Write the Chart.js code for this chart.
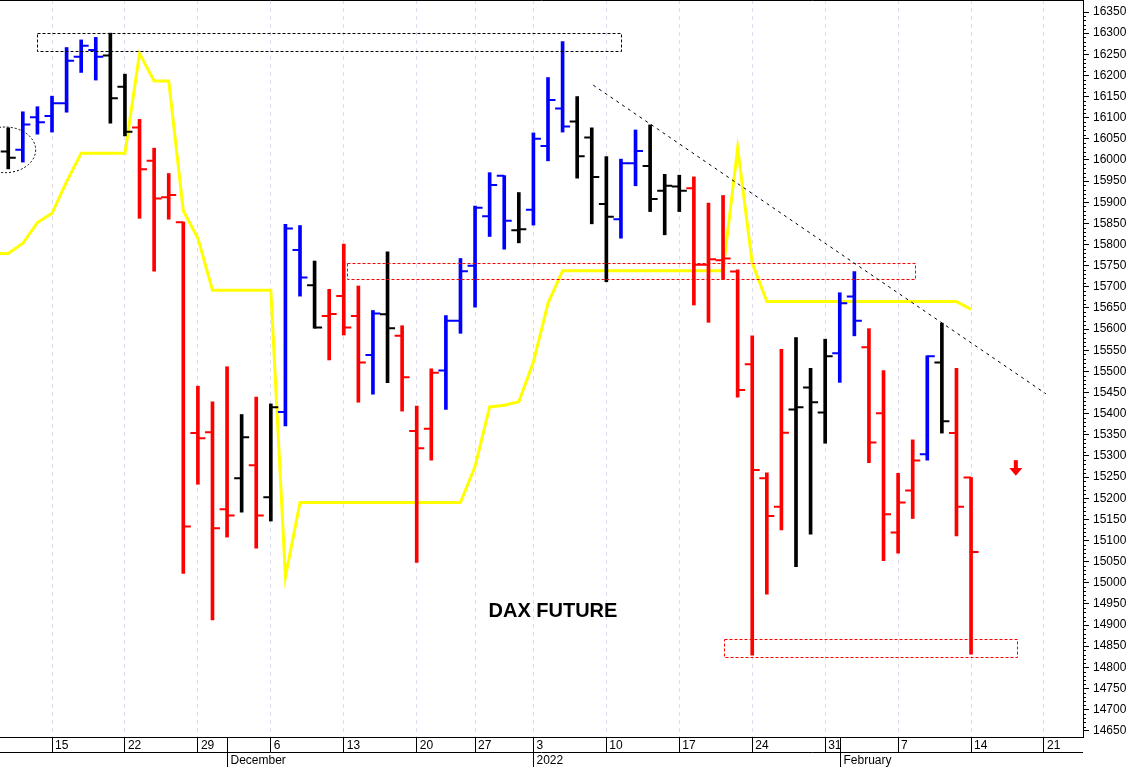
<!DOCTYPE html>
<html>
<head>
<meta charset="utf-8">
<title>DAX Future</title>
<script src="https://cdn.jsdelivr.net/npm/chart.js@4.4.1/dist/chart.umd.min.js"></script>
<style>
  html, body { margin: 0; padding: 0; background: #fff; }
  #chart { display: block; }
</style>
</head>
<body>
<canvas id="chart" width="1131" height="767"></canvas>
<script>
// trading days on the axis (Eurex closed 24 and 31 Dec), one row per week
const days = [
  '2021-11-09', '2021-11-10', '2021-11-11', '2021-11-12',
  '2021-11-15', '2021-11-16', '2021-11-17', '2021-11-18', '2021-11-19',
  '2021-11-22', '2021-11-23', '2021-11-24', '2021-11-25', '2021-11-26',
  '2021-11-29', '2021-11-30', '2021-12-01', '2021-12-02', '2021-12-03',
  '2021-12-06', '2021-12-07', '2021-12-08', '2021-12-09', '2021-12-10',
  '2021-12-13', '2021-12-14', '2021-12-15', '2021-12-16', '2021-12-17',
  '2021-12-20', '2021-12-21', '2021-12-22', '2021-12-23',
  '2021-12-27', '2021-12-28', '2021-12-29', '2021-12-30',
  '2022-01-03', '2022-01-04', '2022-01-05', '2022-01-06', '2022-01-07',
  '2022-01-10', '2022-01-11', '2022-01-12', '2022-01-13', '2022-01-14',
  '2022-01-17', '2022-01-18', '2022-01-19', '2022-01-20', '2022-01-21',
  '2022-01-24', '2022-01-25', '2022-01-26', '2022-01-27', '2022-01-28',
  '2022-01-31', '2022-02-01', '2022-02-02', '2022-02-03', '2022-02-04',
  '2022-02-07', '2022-02-08', '2022-02-09', '2022-02-10', '2022-02-11',
  '2022-02-14', '2022-02-15', '2022-02-16', '2022-02-17', '2022-02-18',
  '2022-02-21', '2022-02-22', '2022-02-23', '2022-02-24', '2022-02-25'
];

const opens = [
  null, 16020, 16024, 16101,
  16104, 16134, 16244, 16260, 16247,
  16173, 16077, 15998, 15912, 15853,
  15354, 15356, 15174, 15247, 15278,
  15202, 15404, 15787, 15704, 15631,
  15678, 15631, 15539, 15635, 15584,
  15359, 15364, 15502, 15620,
  15750, 15867, 15963, 15834,
  15882, 16033, 16122, 16091, 16053,
  15896, 15860, 15992, 15986, 15927,
  15937, 15933, 15752, 15763, 15736,
  15517, 15247, 15180, 15410, 15462,
  15403, 15543, 15677, 15557, 15401,
  15119, 15218, 15304, 15521, 15354,
  15249, null, null, null, null,
  null, null, null, null, null
];
const highs = [
  null, 16076, 16114, 16126,
  16151, 16266, 16284, 16290, 16300,
  16203, 16096, 16028, 15968, 15853,
  15465, 15428, 15511, 15398, 15439,
  15423, 15848, 15845, 15761, 15694,
  15801, 15702, 15644, 15783, 15608,
  15418, 15506, 15632, 15767,
  15891, 15970, 15963, 15923,
  16064, 16195, 16280, 16150, 16076,
  16008, 16002, 16071, 16083, 15966,
  15964, 15960, 15898, 15916, 15740,
  15584, 15260, 15552, 15580, 15507,
  15576, 15686, 15736, 15601, 15502,
  15259, 15338, 15537, 15614, 15507,
  15249, null, null, null, null,
  null, null, null, null, null
];
const lows = [
  null, 15979, 15995, 16061,
  16066, 16113, 16207, 16189, 16087,
  16057, 15862, 15737, 15860, 15022,
  15233, 14912, 15108, 15167, 15082,
  15146, 15371, 15678, 15602, 15527,
  15586, 15427, 15446, 15473, 15406,
  15048, 15290, 15410, 15590,
  15652, 15819, 15789, 15804,
  15846, 15998, 16066, 15957, 15849,
  15712, 15815, 15939, 15878, 15823,
  15878, 15657, 15616, 15718, 15439,
  14829, 14973, 15125, 15038, 15115,
  15330, 15474, 15584, 15284, 15052,
  15070, 15152, 15290, 15354, 15111,
  14831, null, null, null, null,
  null, null, null, null, null
];
const closes = [
  null, 16005, 16084, 16089,
  16134, 16235, 16270, 16244, 16146,
  16067, 15978, 15909, 15917, 15133,
  15342, 15129, 15159, 15344, 15159,
  15415, 15838, 15722, 15604, 15636,
  15604, 15521, 15637, 15602, 15486,
  15318, 15497, 15620, 15737,
  15887, 15941, 15856, 15836,
  16050, 16142, 16079, 16009, 15960,
  15866, 15992, 16021, 15908, 15939,
  15927, 15752, 15765, 15767, 15456,
  15267, 15158, 15355, 15415, 15427,
  15536, 15661, 15620, 15332, 15162,
  15190, 15289, 15536, 15382, 15180,
  15073, null, null, null, null,
  null, null, null, null, null
];
// bar colouring state
const trend = [
  null, 'flat', 'up', 'up',
  'up', 'up', 'up', 'up', 'flat',
  'flat', 'down', 'down', 'down', 'down',
  'down', 'down', 'down', 'flat', 'down',
  'flat', 'up', 'up', 'flat', 'down',
  'down', 'down', 'up', 'flat', 'down',
  'down', 'down', 'up', 'up',
  'up', 'up', 'up', 'flat',
  'up', 'up', 'up', 'flat', 'flat',
  'flat', 'up', 'up', 'flat', 'flat',
  'flat', 'down', 'down', 'down', 'down',
  'down', 'down', 'down', 'flat', 'flat',
  'flat', 'up', 'up', 'down', 'down',
  'down', 'down', 'up', 'flat', 'down',
  'down', null, null, null, null,
  null, null, null, null, null
];
// yellow stop line
const stopLine = [
  15779, 15779, 15803, 15852,
  15874, 15949, 16016, 16016, 16016,
  16016, 16252, 16187, 16187, 15880,
  15815, 15692, 15692, 15692, 15692,
  15692, 15014, 15190, 15190, 15190,
  15190, 15190, 15190, 15190, 15190,
  15190, 15190, 15190, 15190,
  15275, 15416, 15420, 15428,
  15522, 15661, 15738, 15738, 15738,
  15738, 15738, 15738, 15738, 15738,
  15738, 15738, 15738, 15738, 16028,
  15756, 15665, 15665, 15665, 15665,
  15665, 15665, 15665, 15665, 15665,
  15665, 15665, 15665, 15665, 15665,
  15647, null, null, null, null,
  null, null, null, null, null
];

const weekStarts = ['2021-11-15', '2021-11-22', '2021-11-29', '2021-12-06', '2021-12-13', '2021-12-20',
  '2021-12-27', '2022-01-03', '2022-01-10', '2022-01-17', '2022-01-24', '2022-01-31',
  '2022-02-07', '2022-02-14', '2022-02-21'];
const weekLabels = ['15', '22', '29', '6', '13', '20', '27', '3', '10', '17', '24', '31', '7', '14', '21'];
const monthStarts = ['2021-12-01', '2022-01-03', '2022-02-01'];
const monthLabels = ['December', '2022', 'February'];
const yTicks = [14650, 14700, 14750, 14800, 14850, 14900, 14950, 15000, 15050, 15100, 15150, 15200,
  15250, 15300, 15350, 15400, 15450, 15500, 15550, 15600, 15650, 15700, 15750, 15800, 15850,
  15900, 15950, 16000, 16050, 16100, 16150, 16200, 16250, 16300, 16350];

const colorOf = { up: '#0000ff', down: '#ff0000', flat: '#000000' };
const FONT = '"Liberation Sans", Arial, sans-serif';
Chart.defaults.font.family = FONT;
Chart.defaults.font.size = 12;
Chart.defaults.color = '#000';

const barIdx = days.map((d, i) => i).filter(i => highs[i] != null);
const tickIdx = weekStarts.map(d => days.indexOf(d));

// hand drawn study marks, in trading-day / price units
const studyBoxes = [
  { x0: 2.95, x1: 43.0, y0: 16258, y1: 16300, color: '#000' },
  { x0: 24.24, x1: 63.15, y0: 15718, y1: 15756, color: '#ff0000' },
  { x0: 50.08, x1: 70.12, y0: 14824, y1: 14866, color: '#ff0000' }
];
const trendLine = { x0: 41.1, y0: 16177, x1: 72.13, y1: 15447 };
const circle = { x: 0.78, y: 16024, rx: 2.1, ry: 54 };
const arrow = { x: 70.07, top: 15290, tip: 15253 };
const title = { x: 38.34, y: 14933, text: 'DAX FUTURE' };

const studyMarks = {
  id: 'studyMarks',
  afterDatasetsDraw(chart) {
    const { ctx, scales: { x, y } } = chart;
    ctx.save();
    ctx.lineWidth = 1;
    ctx.setLineDash([3, 2]);
    studyBoxes.forEach(b => {
      const l = Math.round(x.getPixelForValue(b.x0)) + 0.5;
      const r = Math.round(x.getPixelForValue(b.x1)) + 0.5;
      const t = Math.round(y.getPixelForValue(b.y1)) + 0.5;
      const bt = Math.round(y.getPixelForValue(b.y0)) + 0.5;
      ctx.strokeStyle = b.color;
      ctx.strokeRect(l, t, r - l, bt - t);
    });
    ctx.strokeStyle = '#000';
    ctx.setLineDash([3, 4]);
    ctx.beginPath();
    ctx.moveTo(x.getPixelForValue(trendLine.x0), y.getPixelForValue(trendLine.y0));
    ctx.lineTo(x.getPixelForValue(trendLine.x1), y.getPixelForValue(trendLine.y1));
    ctx.stroke();

    ctx.setLineDash([2, 2]);
    const cx = x.getPixelForValue(circle.x), cy = y.getPixelForValue(circle.y);
    ctx.beginPath();
    ctx.ellipse(cx, cy, x.getPixelForValue(circle.x + circle.rx) - cx,
      y.getPixelForValue(circle.y - circle.ry) - cy, 0, 0, Math.PI * 2);
    ctx.stroke();
    ctx.setLineDash([]);

    // red arrow
    const ax = x.getPixelForValue(arrow.x);
    const at = y.getPixelForValue(arrow.top), ap = y.getPixelForValue(arrow.tip);
    const am = at + (ap - at) * 0.5;
    ctx.fillStyle = '#ff0000';
    ctx.fillRect(ax - 2, at, 4, am - at + 1);
    ctx.beginPath();
    ctx.moveTo(ax - 6.5, am);
    ctx.lineTo(ax + 6.5, am);
    ctx.lineTo(ax, ap);
    ctx.closePath();
    ctx.fill();

    ctx.fillStyle = '#000';
    ctx.font = 'bold 20px ' + FONT;
    ctx.textAlign = 'center';
    ctx.textBaseline = 'middle';
    ctx.fillText(title.text, x.getPixelForValue(title.x), y.getPixelForValue(title.y));
    ctx.restore();
  }
};

// open tick left, close tick right
const ohlcTicks = {
  id: 'ohlcTicks',
  afterDatasetsDraw(chart) {
    const { ctx, scales: { x, y } } = chart;
    ctx.save();
    ctx.lineWidth = 2;
    barIdx.forEach(i => {
      const px = x.getPixelForValue(i);
      const yo = y.getPixelForValue(opens[i]);
      const yc = y.getPixelForValue(closes[i]);
      ctx.strokeStyle = colorOf[trend[i]];
      ctx.beginPath();
      ctx.moveTo(px - 7.5, yo);
      ctx.lineTo(px, yo);
      ctx.moveTo(px, yc);
      ctx.lineTo(px + 7.5, yc);
      ctx.stroke();
    });
    ctx.restore();
  }
};

// frame, month row and minor price ticks
const axisExtras = {
  id: 'axisExtras',
  afterDraw(chart) {
    const { ctx, chartArea: a, scales: { x, y } } = chart;
    const line = (x1, y1, x2, y2) => { ctx.beginPath(); ctx.moveTo(x1, y1); ctx.lineTo(x2, y2); ctx.stroke(); };
    ctx.save();
    ctx.strokeStyle = '#000';
    ctx.lineWidth = 1;
    line(0, 0.5, a.right, 0.5);
    line(0, a.bottom + 15.5, a.right, a.bottom + 15.5);
    ctx.fillStyle = '#000';
    ctx.font = '12px ' + FONT;
    ctx.textBaseline = 'middle';
    ctx.textAlign = 'left';
    monthStarts.forEach((d, k) => {
      const px = Math.round(x.getPixelForValue(days.indexOf(d))) + 0.5;
      line(px, a.bottom, px, chart.height);
      ctx.fillText(monthLabels[k], px + 3, a.bottom + 24);
    });
    for (let v = yTicks[0]; v <= yTicks[yTicks.length - 1]; v += 10) {
      if (v % 50 === 0) continue;
      const py = Math.round(y.getPixelForValue(v)) + 0.5;
      line(a.right, py, a.right + 3, py);
    }
    ctx.restore();
  }
};

new Chart(document.getElementById('chart'), {
  type: 'line',
  data: {
    datasets: [
      {
        type: 'bar',
        data: barIdx.map(i => ({ x: i, y: [lows[i], highs[i]] })),
        backgroundColor: barIdx.map(i => colorOf[trend[i]]),
        barThickness: 3,
        grouped: false,
        order: 0
      },
      {
        type: 'line',
        data: days.map((d, i) => ({ x: i, y: stopLine[i] })).filter(p => p.y != null),
        borderColor: '#ffff00',
        borderWidth: 3,
        pointRadius: 0,
        tension: 0,
        order: 1
      }
    ]
  },
  options: {
    responsive: false,
    animation: false,
    devicePixelRatio: 1,
    layout: { padding: 0, autoPadding: false },
    plugins: { legend: { display: false }, tooltip: { enabled: false } },
    scales: {
      x: {
        type: 'linear',
        min: 0.435,
        max: 74.674,
        offset: false,
        afterBuildTicks: s => { s.ticks = tickIdx.map(v => ({ value: v })); },
        afterFit: s => { s.height = 30; s.paddingLeft = 0; s.paddingRight = 0; },
        ticks: {
          align: 'start',
          labelOffset: 3,
          padding: -14,
          maxRotation: 0,
          autoSkip: false,
          callback: (v, k) => weekLabels[k]
        },
        grid: { offset: false, color: '#dcdcef', tickColor: '#000', tickLength: 15, tickWidth: 1 },
        border: { color: '#000', dash: [4, 4] }
      },
      y: {
        type: 'linear',
        position: 'right',
        min: 14635.2,
        max: 16378.4,
        afterBuildTicks: s => { s.ticks = yTicks.map(v => ({ value: v })); },
        afterFit: s => { s.width = 48; s.paddingTop = 0; s.paddingBottom = 0; },
        ticks: { padding: 4, callback: v => String(v) },
        grid: { drawOnChartArea: false, tickLength: 6, tickColor: '#000' },
        border: { color: '#000' }
      }
    }
  },
  plugins: [studyMarks, ohlcTicks, axisExtras]
});
</script>
</body>
</html>
